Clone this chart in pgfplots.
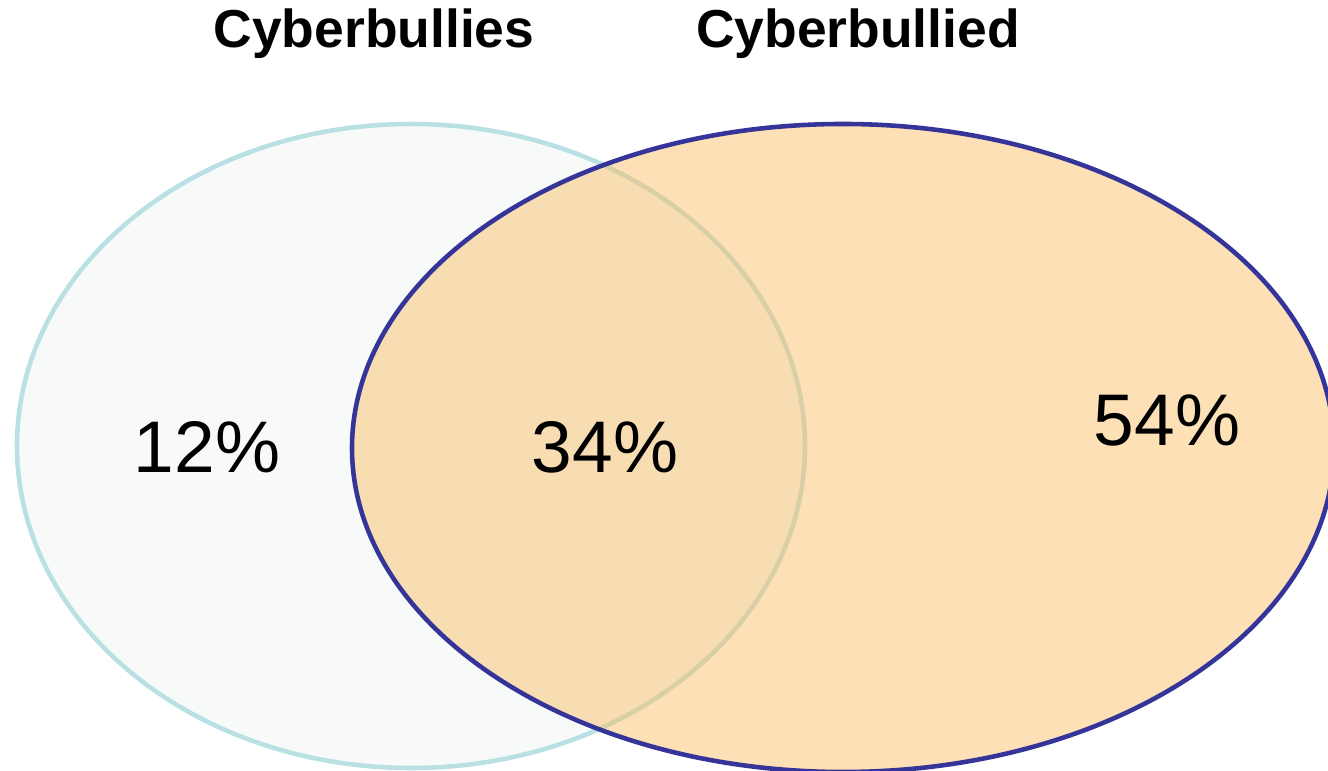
\documentclass[border=0pt]{standalone}
\usepackage{pgfplots}
\pgfplotsset{compat=1.18}
\usepackage{fontspec}
\setmainfont{Liberation Sans}
\definecolor{leftfill}{RGB}{248,250,250}
\definecolor{leftedge}{RGB}{185,224,227}
\definecolor{rightfill}{RGB}{251,189,98}
\definecolor{rightedge}{RGB}{53,53,153}
\begin{document}
\begin{tikzpicture}
\useasboundingbox (0,0) rectangle (13.28cm,7.71cm);
\begin{axis}[
  at={(0,0)}, anchor=origin,
  scale only axis, width=13.28cm, height=7.71cm,
  xmin=0, xmax=1328, ymin=0, ymax=771,
  hide axis, clip=true,
]
% left set: Cyberbullies
\draw[fill=leftfill, draw=leftedge, line width=1.3pt]
  (axis cs:411,325) ellipse [x radius=394, y radius=322];
% right set: Cyberbullied
\fill[rightfill, fill opacity=0.47]
  (axis cs:843,323) ellipse [x radius=491, y radius=324];
\draw[draw=rightedge, line width=1.3pt]
  (axis cs:843,323) ellipse [x radius=491, y radius=324];
\node[anchor=base, font=\fontsize{15.2}{17}\selectfont\bfseries] at (axis cs:374,723) {Cyberbullies};
\node[anchor=base, font=\fontsize{15.2}{17}\selectfont\bfseries] at (axis cs:858,723) {Cyberbullied};
\node[anchor=base, font=\fontsize{20.8}{24}\selectfont] at (axis cs:207,298) {12\%};
\node[anchor=base, font=\fontsize{20.8}{24}\selectfont] at (axis cs:605,298) {34\%};
\node[anchor=base, font=\fontsize{20.8}{24}\selectfont] at (axis cs:1167,325) {54\%};
\end{axis}
\end{tikzpicture}
\end{document}
